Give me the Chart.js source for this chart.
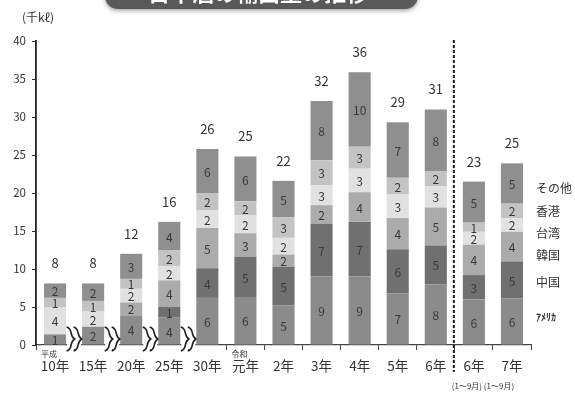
<!DOCTYPE html>
<html lang="ja">
<head>
<meta charset="utf-8">
<title>日本酒の輸出量の推移</title>
<script src="https://cdn.jsdelivr.net/npm/chart.js@4.4.0/dist/chart.umd.min.js"></script>
<style>
  body { margin: 0; background: #fff; }
  #wrap { width: 575px; height: 394px; }
</style>
</head>
<body>
<div id="wrap"><canvas id="exportChart" width="575" height="394"></canvas></div>
<script>
const FONT = '"Noto Sans CJK JP", "Noto Sans", sans-serif';

// === Export volume by destination (千kℓ) ===
const years = ["10年", "15年", "20年", "25年", "30年", "元年", "2年", "3年", "4年", "5年", "6年", "6年", "7年"];
const usa      = [1.4, 2.4, 3.9, 3.6, 6.2, 6.3, 5.2, 9.0, 9.0, 6.8, 8.0, 6.0, 6.1];
const china    = [0,   0,   0,   1.4, 3.9, 5.3, 5.1, 7.0, 7.2, 5.8, 5.1, 3.2, 4.9];
const korea    = [0,   0,   1.7, 3.5, 5.3, 3.1, 1.6, 2.4, 3.9, 4.1, 5.0, 4.0, 3.9];
const taiwan   = [3.6, 2.0, 1.8, 1.9, 2.3, 2.4, 2.2, 2.6, 3.1, 3.1, 2.8, 1.7, 1.8];
const hongkong = [1.2, 1.4, 1.3, 2.1, 2.3, 1.8, 2.7, 3.3, 2.9, 2.2, 2.0, 1.2, 1.9];
const others   = [1.9, 2.3, 3.3, 3.7, 5.8, 5.9, 4.8, 7.8, 9.8, 7.3, 8.1, 5.4, 5.3];
// totals as published above each bar
const totals   = [8, 8, 12, 16, 26, 25, 22, 32, 36, 29, 31, 23, 25];

const seriesNames  = ["ｱﾒﾘｶ", "中国", "韓国", "台湾", "香港", "その他"];
const seriesValues = [usa, china, korea, taiwan, hongkong, others];
const seriesColors = ["#8b8b8b", "#707070", "#ababab", "#e1e1e1", "#c3c3c3", "#8f8f8f"];

// era marks and period notes under some of the year labels
const eraNotes = { 0: "平成", 5: "令和" };
const periodNotes = { 11: "(1～9月)", 12: "(1～9月)" };


// === Custom drawing: segment values, totals, side labels, breaks ===
const decorPlugin = {
  id: "decor",
  beforeDraw(chart) {
    const c = chart.ctx;
    // title banner, mostly cut off at the top edge
    c.save();
    c.shadowColor = "rgba(0,0,0,0.35)";
    c.shadowBlur = 4;
    c.shadowOffsetY = 2;
    c.fillStyle = "#595959";
    c.beginPath();
    c.roundRect(105, -30, 313, 39, 13);
    c.fill();
    c.restore();
    c.save();
    c.fillStyle = "#fff";
    c.font = "bold 22px " + FONT;
    c.textAlign = "center";
    c.textBaseline = "alphabetic";
    c.fillText("日本酒の輸出量の推移", 258, 1);
    c.restore();
  },
  afterDatasetsDraw(chart) {
    const c = chart.ctx;
    const x = chart.scales.x;
    const y = chart.scales.y;

    // value inside each segment
    c.save();
    c.font = "12px " + FONT;
    c.fillStyle = "#3a3a3a";
    c.textAlign = "center";
    c.textBaseline = "middle";
    chart.data.datasets.forEach((ds, di) => {
      chart.getDatasetMeta(di).data.forEach((bar, i) => {
        const v = ds.data[i];
        if (!v) return;
        c.fillText(String(Math.round(v)), bar.x, (bar.y + bar.base) / 2 + 1);
      });
    });

    // totals above bars
    c.font = "13px " + FONT;
    c.fillStyle = "#333";
    years.forEach((_, i) => {
      const sum = seriesValues.reduce((s, arr) => s + arr[i], 0);
      c.fillText(String(totals[i]), x.getPixelForValue(i), y.getPixelForValue(sum) - 20);
    });

    // series names beside the last bar
    const sideY = [317, 282, 255, 233, 211, 188];
    c.textAlign = "left";
    seriesNames.forEach((name, k) => {
      c.font = (k === 0 ? "bold 10px " : "12px ") + FONT;
      c.fillText(name, 536, sideY[k]);
    });

    // unit
    c.font = "12px " + FONT;
    c.textAlign = "center";
    c.fillText("(千kℓ)", 38, 17);

    // small era / period notes on the category axis
    c.font = "8px " + FONT;
    Object.keys(eraNotes).forEach(i => {
      c.fillText(eraNotes[i], x.getPixelForValue(+i) - 6, 354);
    });
    Object.keys(periodNotes).forEach(i => {
      c.fillText(periodNotes[i], x.getPixelForValue(+i) - (i == 11 ? 7 : 13), 386);
    });
    c.restore();

    // wavy break marks between the early, non-consecutive years
    const base = y.getPixelForValue(0);
    c.save();
    c.strokeStyle = "#222";
    c.lineWidth = 1.6;
    for (let i = 0; i < 4; i++) {
      const cx = (x.getPixelForValue(i) + x.getPixelForValue(i + 1)) / 2;
      const top = base - 18, bottom = base + 6, mid = (top + bottom) / 2;
      c.fillStyle = "#fff";
      c.fillRect(cx - 7, base - 3, 14, 7);
      [-3.5, 3.5].forEach(dx => {
        const px = cx + dx;
        c.beginPath();
        c.moveTo(px - 4, top);
        c.bezierCurveTo(px + 3, top + 2, px - 2, mid - 4, px + 4, mid);
        c.bezierCurveTo(px - 2, mid + 4, px + 3, bottom - 2, px - 4, bottom);
        c.stroke();
      });
    }
    c.restore();

    // dashed divider before the January-September figures
    const dx = (x.getPixelForValue(10) + x.getPixelForValue(11)) / 2 - 1;
    c.save();
    c.strokeStyle = "#1e1e1e";
    c.lineWidth = 2;
    c.setLineDash([3, 2]);
    c.beginPath();
    c.moveTo(dx, 40);
    c.lineTo(dx, 372);
    c.stroke();
    c.restore();
  }
};


// === Chart ===
const ctx = document.getElementById("exportChart").getContext("2d");

const chart = new Chart(ctx, {
  type: "bar",
  data: {
    labels: years,
    datasets: seriesNames.map((name, k) => ({
      label: name,
      data: seriesValues[k],
      backgroundColor: seriesColors[k],
      borderWidth: 0,
      categoryPercentage: 1,
      barPercentage: 0.58
    }))
  },
  options: {
    responsive: false,
    animation: false,
    layout: { padding: { left: 0, right: 44, top: 41, bottom: 0 } },
    plugins: {
      legend: { display: false },
      tooltip: { enabled: false }
    },
    scales: {
      x: {
        stacked: true,
        afterFit: s => { s.height = 49; },
        border: { color: "#444", width: 1.3 },
        grid: { drawOnChartArea: false, tickLength: 5, color: "#444", lineWidth: 1 },
        ticks: { color: "#333", font: { family: FONT, size: 13.5 }, padding: 8 }
      },
      y: {
        stacked: true,
        min: 0,
        max: 40,
        afterFit: s => { s.width = 36; },
        border: { color: "#222", width: 1.8 },
        grid: { drawOnChartArea: false, tickLength: 4, color: "#222" },
        ticks: { stepSize: 5, color: "#333", font: { family: FONT, size: 11.5 }, padding: 6 }
      }
    }
  },
  plugins: [decorPlugin]
});
</script>
</body>
</html>
